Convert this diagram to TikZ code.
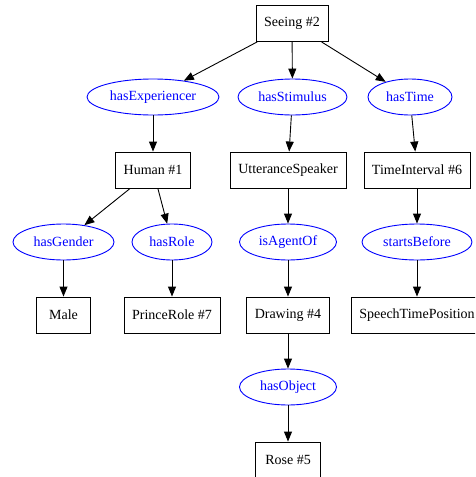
\documentclass[tikz,border=0pt]{standalone}
\usepackage{fontspec}
\setmainfont{Liberation Serif}
\usetikzlibrary{shapes.geometric,arrows.meta}
\definecolor{gvblue}{RGB}{0,0,255}
\begin{document}
\begin{tikzpicture}[x=1pt,y=-1pt,
  font=\fontsize{14}{16}\selectfont,
  cls/.style={draw=black,line width=0.9pt,rectangle,minimum height=36pt,inner xsep=8pt,inner ysep=0pt,minimum width=54pt},
  prop/.style={draw=gvblue,text=gvblue,line width=0.9pt,ellipse,minimum height=36pt,inner sep=0pt},
  edge/.style={draw=black,line width=0.9pt,-{Triangle[length=10pt,width=8pt]}}]
\useasboundingbox (0,0) rectangle (475,477);
\begin{scope}
\clip (0,0) rectangle (475,477);
\node[cls,minimum width=72pt] (seeing) at (292,23.5) {Seeing \#2};
\node[prop,minimum width=132pt] (hasexp) at (153,97) {hasExperiencer};
\node[prop,minimum width=109pt] (hasstim) at (292.5,97) {hasStimulus};
\node[prop,minimum width=84pt] (hastime) at (410,97) {hasTime};
\node[cls,minimum width=74pt] (human) at (153,170) {Human \#1};
\node[cls,minimum width=116pt] (utt) at (288,170) {UtteranceSpeaker};
\node[cls,minimum width=104pt] (timeint) at (417,170) {TimeInterval \#6};
\node[prop,minimum width=101pt] (hasgender) at (63.5,242) {hasGender};
\node[prop,minimum width=80pt] (hasrole) at (172,242) {hasRole};
\node[prop,minimum width=97pt] (isagent) at (288,242) {isAgentOf};
\node[prop,minimum width=110pt] (starts) at (417,242) {startsBefore};
\node[cls,minimum width=54pt] (male) at (63.5,315) {Male};
\node[cls,minimum width=96pt] (prince) at (172,315) {PrinceRole \#7};
\node[cls,minimum width=82pt] (drawing) at (288,315) {Drawing \#4};
\node[cls,minimum width=132pt] (speech) at (417,315) {SpeechTimePosition};
\node[prop,minimum width=97pt] (hasobj) at (288,387) {hasObject};
\node[cls,minimum width=65pt] (rose) at (288,460) {Rose \#5};
\draw[edge] (seeing) -- (hasexp);
\draw[edge] (seeing) -- (hasstim);
\draw[edge] (seeing) -- (hastime);
\draw[edge] (hasexp) -- (human);
\draw[edge] (hasstim) -- (utt);
\draw[edge] (hastime) -- (timeint);
\draw[edge] (human) -- (hasgender);
\draw[edge] (human) -- (hasrole);
\draw[edge] (utt) -- (isagent);
\draw[edge] (timeint) -- (starts);
\draw[edge] (hasgender) -- (male);
\draw[edge] (hasrole) -- (prince);
\draw[edge] (isagent) -- (drawing);
\draw[edge] (starts) -- (speech);
\draw[edge] (drawing) -- (hasobj);
\draw[edge] (hasobj) -- (rose);
\end{scope}
\end{tikzpicture}
\end{document}
